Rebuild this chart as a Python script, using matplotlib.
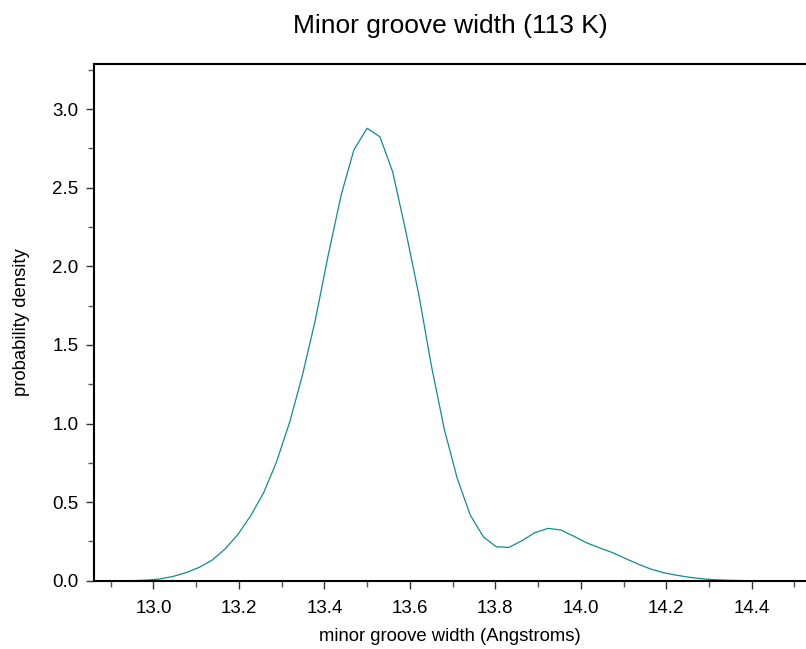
import matplotlib
matplotlib.use('Agg')
import matplotlib.pyplot as plt
from matplotlib.ticker import MultipleLocator, FormatStrFormatter

# data (kernel density of minor groove width)
width = [12.926, 12.956, 12.986, 13.017, 13.047, 13.077, 13.107, 13.137, 13.167, 13.198,
         13.228, 13.258, 13.288, 13.319, 13.349, 13.379, 13.409, 13.439, 13.469, 13.500,
         13.530, 13.560, 13.590, 13.621, 13.651, 13.681, 13.711, 13.741, 13.772, 13.802,
         13.832, 13.862, 13.892, 13.923, 13.953, 13.983, 14.013, 14.043, 14.073, 14.104,
         14.134, 14.164, 14.194, 14.224, 14.254, 14.285, 14.315, 14.345, 14.375, 14.405]
density = [0.000, 0.001, 0.004, 0.012, 0.028, 0.052, 0.085, 0.130, 0.200, 0.295,
           0.415, 0.560, 0.755, 1.010, 1.310, 1.660, 2.070, 2.450, 2.740, 2.878,
           2.824, 2.600, 2.230, 1.820, 1.360, 0.960, 0.651, 0.420, 0.280, 0.216,
           0.212, 0.254, 0.305, 0.333, 0.323, 0.284, 0.242, 0.210, 0.180, 0.142,
           0.106, 0.074, 0.051, 0.035, 0.022, 0.012, 0.006, 0.003, 0.001, 0.000]

plt.rcParams['font.family'] = ['Liberation Sans', 'DejaVu Sans']

fig = plt.figure(figsize=(8.06, 6.49), dpi=100)
ax = fig.add_axes([0.1166, 0.1052, 0.8834, 0.7962])

ax.plot(width, density, color='#0e8e8e', linewidth=0.9)

ax.set_xlim(12.861, 14.527)
ax.set_ylim(0, 3.287)

ax.xaxis.set_major_locator(MultipleLocator(0.2))
ax.xaxis.set_minor_locator(MultipleLocator(0.1))
ax.yaxis.set_major_locator(MultipleLocator(0.5))
ax.yaxis.set_minor_locator(MultipleLocator(0.25))
ax.xaxis.set_major_formatter(FormatStrFormatter('%.1f'))
ax.yaxis.set_major_formatter(FormatStrFormatter('%.1f'))

ax.spines['right'].set_visible(False)
for s in ['left', 'bottom', 'top']:
    ax.spines[s].set_linewidth(1.5)
ax.tick_params(which='major', direction='out', length=6, width=1, labelsize=13.5, pad=5, color='#333333')
ax.tick_params(which='minor', direction='out', length=4, width=1, color='#555555')
ax.tick_params(axis='x', which='major', pad=8)
ax.tick_params(top=False, right=False, which='both')

ax.set_xlabel('minor groove width (Angstroms)', fontsize=13.3, labelpad=8)
ax.set_ylabel('probability density', fontsize=13.3, labelpad=16)
ax.set_title('Minor groove width (113 K)', fontsize=19, pad=22)

fig.savefig('out.png', dpi=100)
